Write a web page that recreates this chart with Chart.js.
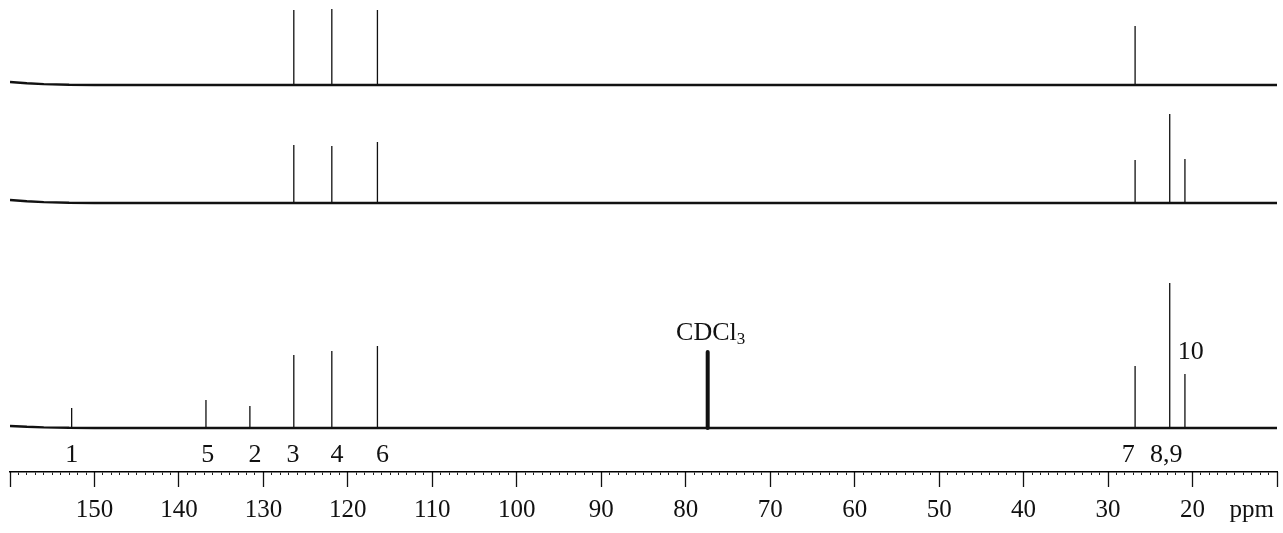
<!DOCTYPE html>
<html>
<head>
<meta charset="utf-8">
<script src="https://cdn.jsdelivr.net/npm/chart.js@4.4.1/dist/chart.umd.min.js"></script>
<style>
  html, body { margin: 0; padding: 0; background: #fff; }
  #wrap { width: 1283px; height: 533px; }
</style>
</head>
<body>
<div id="wrap"><canvas id="mycanvas"></canvas></div>
<script>
// carbon shifts (ppm), order as in the picture
var peakPpm   = [152.7, 136.8, 131.6, 126.4, 121.9, 116.5, 26.8, 22.7, 20.9];
var carbonNo  = ['1', '5', '2', '3', '4', '6', '7', '8,9', '10'];
// intensities of each trace
var broadband = [20, 28, 22, 73, 77, 82, 62, 145, 54];
var dept135   = [0, 0, 0, 58, 57, 61, 43, 89, 44];
var dept90    = [0, 0, 0, 75, 76, 75, 59, 0, 0];
// solvent line
var solventPpm = 77.4;
var solventHeight = 76;
var solventName = 'CDCl';
// baseline rise at the left end of each trace (broadband, dept135, dept90)
var baselineDrift = [2, 3, 3];
// axis
var ppmMin = 10;
var ppmMax = 160;

// where the carbon numbers sit
var labelPpm = [152.7, 136.6, 131.0, 126.5, 121.3, 115.9, 27.6, 23.1, 20.2];
var labelUp  = [false, false, false, false, false, false, false, false, true];

var offsets = [0, 225, 343];   // vertical place of each trace
var ink = '#111';

function baseline(off, drift) {
  return [
    {x: ppmMax, y: off + drift},
    {x: 158, y: off + drift * 0.6},
    {x: 156, y: off + drift * 0.3},
    {x: 153, y: off + drift * 0.1},
    {x: 150, y: off},
    {x: ppmMin, y: off}
  ];
}

function sticks(vals, off) {
  var pts = [];
  for (var i in vals) {
    if (!vals[i]) continue;
    pts.push({x: peakPpm[i], y: off});
    pts.push({x: peakPpm[i], y: off + vals[i]});
    pts.push({x: peakPpm[i], y: null});
  }
  return pts;
}

var traces = [broadband, dept135, dept90];
var datasets = [];
for (var t = 0; t < traces.length; t++) {
  datasets.push({
    data: baseline(offsets[t], baselineDrift[t]),
    borderColor: ink, borderWidth: 2.4
  });
  datasets.push({
    data: sticks(traces[t], offsets[t]),
    borderColor: ink, borderWidth: 1.3
  });
}
datasets.push({
  data: [{x: solventPpm, y: 0}, {x: solventPpm, y: solventHeight}],
  borderColor: ink, borderWidth: 4, borderCapStyle: 'round'
});

var peakLabels = {
  id: 'peakLabels',
  afterDatasetsDraw: function(chart) {
    var c = chart.ctx, xs = chart.scales.x, ys = chart.scales.y;
    c.save();
    c.fillStyle = ink;
    c.textAlign = 'center';
    c.textBaseline = 'middle';
    c.font = '26px "Liberation Serif", "DejaVu Serif", serif';
    for (var i in carbonNo) {
      var px = xs.getPixelForValue(labelPpm[i]);
      var py = ys.getPixelForValue(labelUp[i] ? 76 : -27);
      c.fillText(carbonNo[i], px, py);
    }
    // solvent label with subscript
    var sx = xs.getPixelForValue(solventPpm), sy = ys.getPixelForValue(solventHeight + 19);
    c.font = '26px "Liberation Serif", "DejaVu Serif", serif';
    var w1 = c.measureText(solventName).width;
    c.font = '17px "Liberation Serif", "DejaVu Serif", serif';
    var w2 = c.measureText('3').width;
    var left = sx - (w1 + w2) / 2 + 3;
    c.textAlign = 'left';
    c.font = '26px "Liberation Serif", "DejaVu Serif", serif';
    c.fillText(solventName, left, sy);
    c.font = '17px "Liberation Serif", "DejaVu Serif", serif';
    c.fillText('3', left + w1, sy + 7);
    c.restore();
  }
};

var ctx = document.getElementById('mycanvas');
var myChart = new Chart(ctx, {
  type: 'line',
  data: {datasets: datasets},
  options: {
    responsive: true,
    maintainAspectRatio: false,
    animation: false,
    devicePixelRatio: 1,
    elements: {point: {radius: 0}, line: {tension: 0, borderJoinStyle: 'bevel'}},
    layout: {padding: {left: 10, right: 6, top: 0, bottom: -12}},
    plugins: {legend: {display: false}, tooltip: {enabled: false}},
    scales: {
      x: {
        type: 'linear', min: ppmMin, max: ppmMax, reverse: true,
        position: 'bottom',
        border: {display: true, color: '#000', width: 1.6},
        grid: {drawOnChartArea: false, drawTicks: true, tickLength: 3, tickColor: '#222', tickWidth: 1},
        ticks: {
          stepSize: 1, autoSkip: false, maxRotation: 0, padding: 2,
          color: '#111',
          font: {family: '"Liberation Serif", "DejaVu Serif", serif', size: 25, lineHeight: 2.64},
          callback: function(v) {
            if (v === 13) return 'ppm';
            if (v % 10 === 0 && v >= 20 && v <= 150) return String(v);
            return '';
          }
        }
      },
      x2: {
        type: 'linear', min: ppmMin, max: ppmMax, reverse: true,
        position: {y: -44},
        border: {display: false},
        grid: {drawOnChartArea: false, drawTicks: true, tickLength: 15, tickColor: '#111', tickWidth: 1.3},
        ticks: {stepSize: 10, display: false}
      },
      y: {
        type: 'linear', min: -44, max: 428, display: false
      }
    }
  },
  plugins: [peakLabels]
});
</script>
</body>
</html>
